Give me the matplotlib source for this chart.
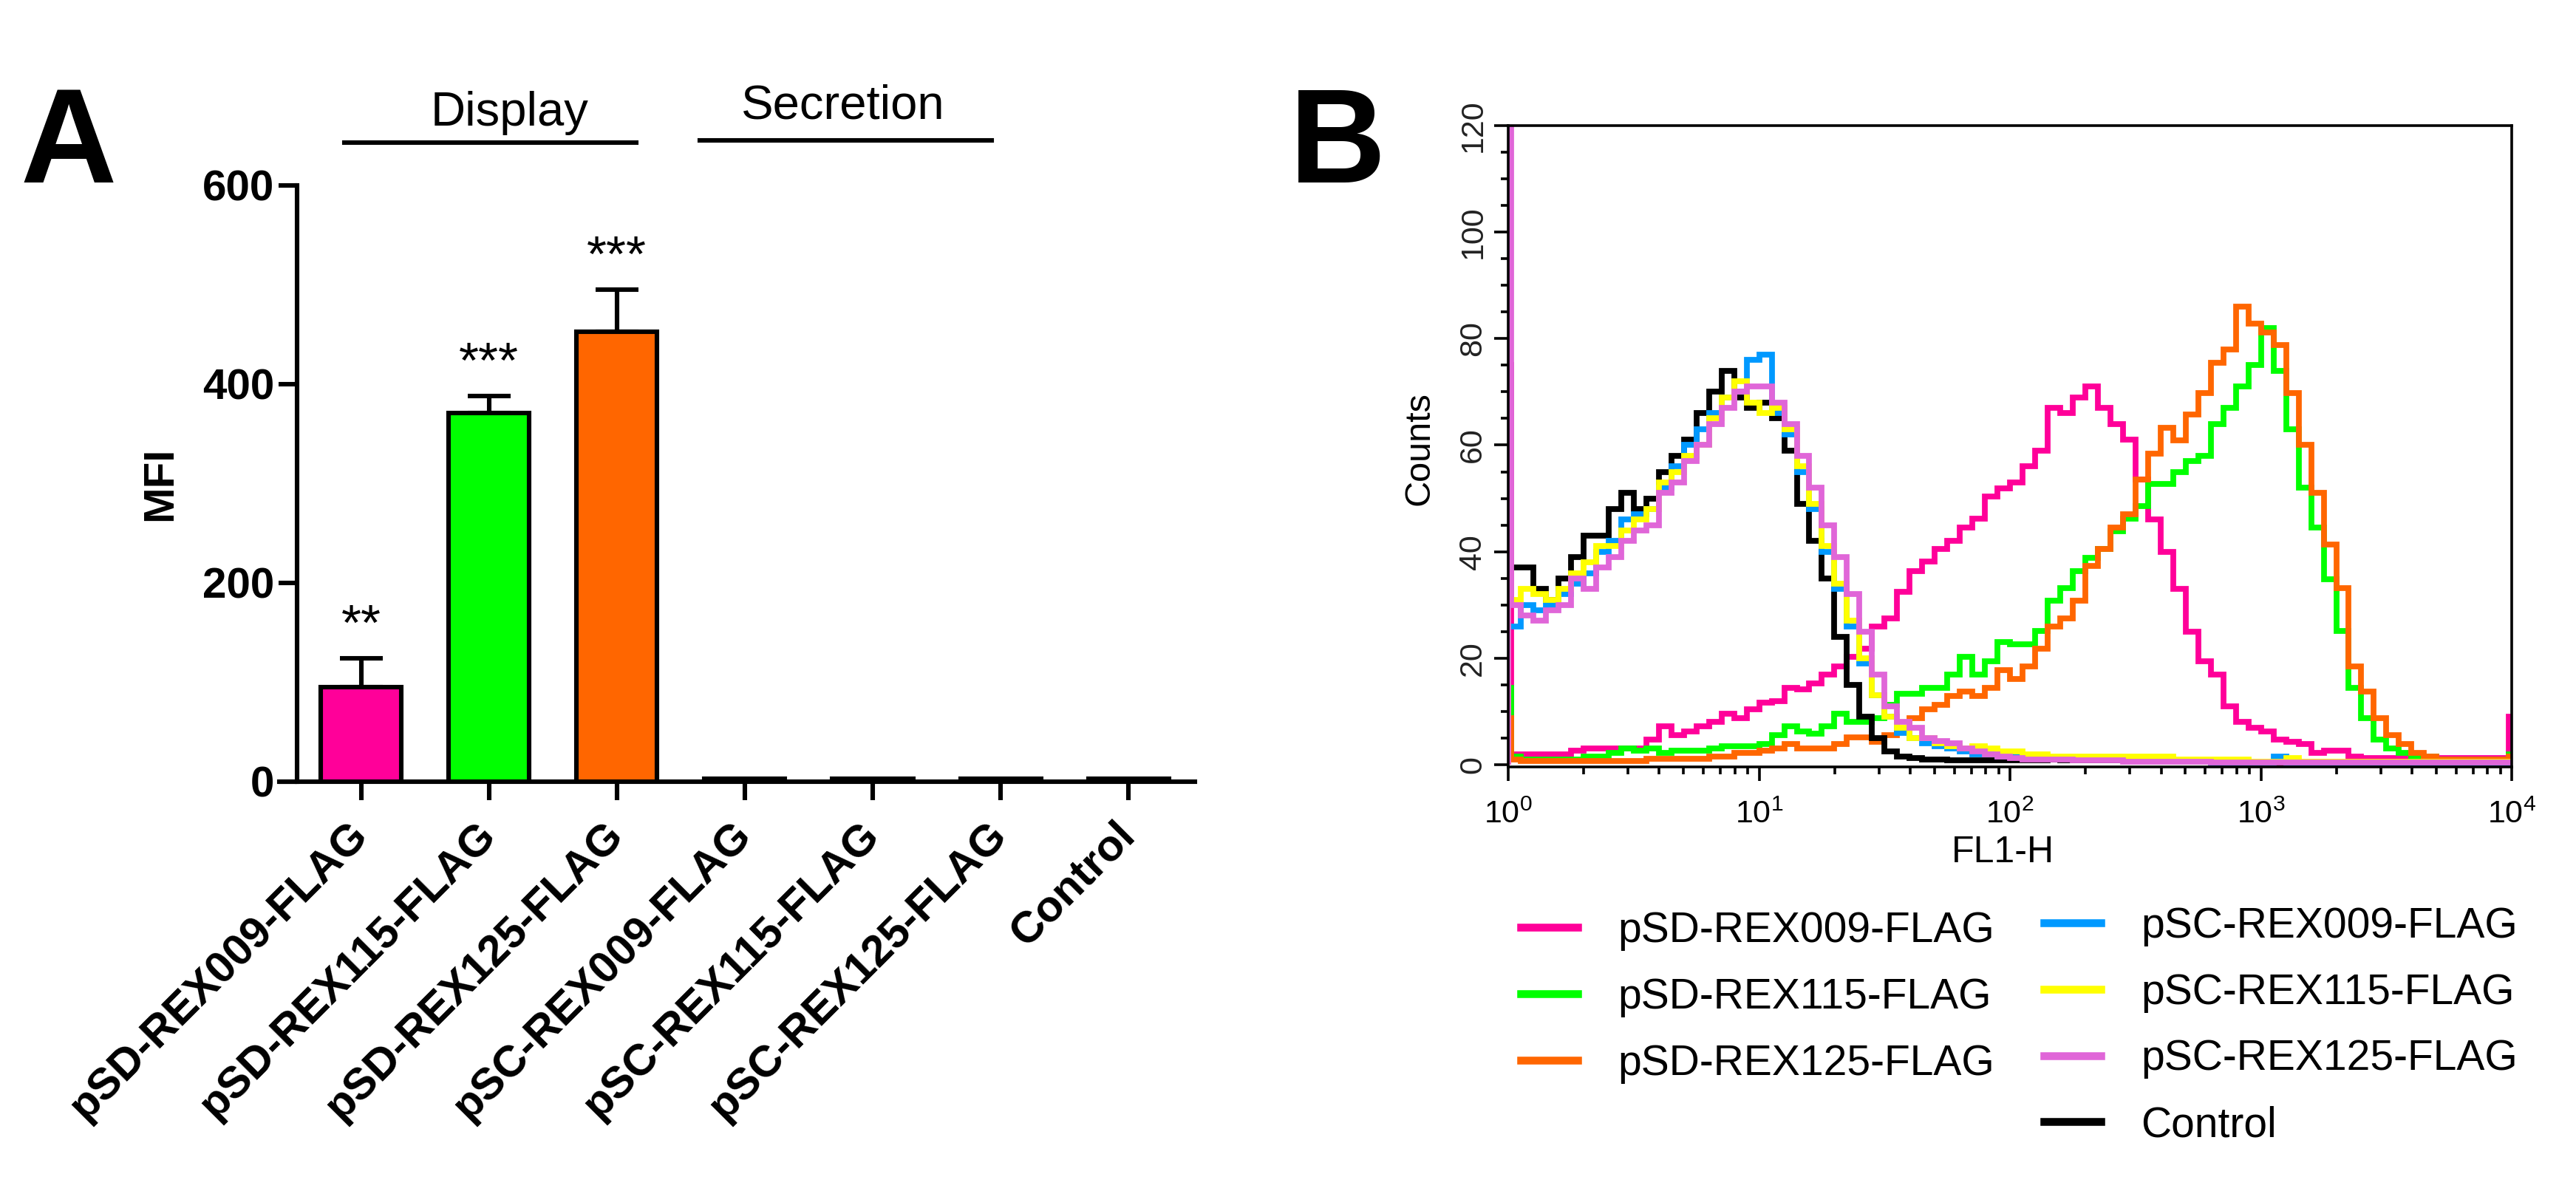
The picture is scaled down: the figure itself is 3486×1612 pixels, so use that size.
import numpy as np
import matplotlib
matplotlib.use('Agg')
import matplotlib.pyplot as plt
from matplotlib.lines import Line2D
from matplotlib.ticker import MultipleLocator, LogLocator, NullFormatter

plt.rcParams['font.family'] = ['Liberation Sans', 'DejaVu Sans']

# ---- panel A data ----
categories = ['pSD-REX009-FLAG', 'pSD-REX115-FLAG', 'pSD-REX125-FLAG',
              'pSC-REX009-FLAG', 'pSC-REX115-FLAG', 'pSC-REX125-FLAG', 'Control']
mfi = [95, 371, 453, 3, 3, 3, 3]
mfi_err = [29, 17, 42, 0, 0, 0, 0]
stars = ['**', '***', '***', '', '', '', '']
bar_colors = ['#FF0099', '#00FF00', '#FF6600', 'white', 'white', 'white', 'white']

# ---- panel B data (counts per 1/20 decade, plus first / last channel) ----
first_ch = {'pink': 75, 'green': 14.5, 'orange': 8.8, 'black': 37, 'blue': 26, 'yellow': 31, 'violet': 125}
last_ch = {'pink': 9, 'green': 2, 'orange': 1.5, 'black': 0.4, 'blue': 0.4, 'yellow': 0.5, 'violet': 0.4}

pink = [2, 2, 2, 2, 2, 2.7, 3, 3, 3, 3, 3, 4.7, 7.2, 5.5, 6.3, 7.2, 8, 9.6, 8.8, 10.4,
        11.6, 12, 14.5, 14.1, 15.3, 16.9, 18.5, 20.2, 21.8, 25.9, 27.5, 32.4, 36.4, 38.1, 40.5, 42.1, 44.6, 46.2, 50.3, 51.9,
        53, 56, 59, 67, 66, 69, 71, 67, 64, 61, 53.5, 46, 40, 33, 25, 19.4, 17, 11, 8, 7,
        6.3, 4.7, 4.3, 3.9, 2.3, 2.7, 2.7, 1.5, 1.2, 1.2, 1.2, 1.2, 1.2, 1.2, 1.2, 1.2, 1.2, 1.2, 1.2, 1.2]
green = [1.5, 1, 1, 1, 1, 1, 1.5, 1.5, 2.3, 3.1, 2.7, 3.1, 2.3, 2.7, 2.7, 2.7, 3.1, 3.5, 3.5, 3.5,
         3.9, 5.5, 7.2, 6.3, 5.9, 7.2, 9.6, 8, 8, 8.8, 11.2, 13.3, 13.3, 14.5, 14.5, 16.9, 20.2, 16.9, 19.4, 23,
         22.6, 22.6, 25.1, 30.8, 33.2, 36.4, 38.9, 40.5, 43.8, 46.2, 48.6, 52.7, 52.7, 55, 57, 58, 64, 67, 71, 75,
         82, 74, 63, 52, 44.6, 34.8, 25.1, 14.5, 8.8, 4.7, 3.1, 2.3, 1.5, 1.5, 1, 1, 1, 1, 1, 1]
orange = [1, 0.7, 0.7, 0.7, 0.7, 0.7, 0.7, 0.7, 0.7, 0.7, 0.7, 1.1, 1.1, 1.1, 1.1, 1.1, 1.5, 1.5, 2.3, 2.3,
          2.7, 3.1, 3.9, 3.1, 3.1, 3.1, 3.9, 5.1, 5.1, 4.3, 5.5, 6.7, 8.8, 10.4, 11.2, 12.9, 13.7, 12.9, 14.5, 17.7,
          16.1, 18.5, 21.8, 25.9, 27.5, 30.8, 37.3, 40.5, 44.6, 47, 53.5, 58.4, 63.3, 60.9, 65.7, 69.8, 75.5, 78, 86, 82.8,
          81.2, 78.8, 69.8, 60, 51.1, 41.3, 33.2, 18.5, 13.7, 8.8, 5.5, 3.9, 2.3, 1.5, 1, 1, 1, 1, 1, 1]
black = [37, 37, 33, 31, 35, 39, 43, 43, 48, 51, 48, 50, 55, 58, 61, 66, 70, 74, 69, 67,
         68, 65, 59, 49, 42, 35, 24, 15, 9, 5, 2.5, 1.5, 1.2, 1, 1, 0.8, 0.8, 0.8, 0.8, 0.8,
         0.8, 0.8, 0.8, 1, 0.8, 0.8, 0.8, 0.8, 0.8, 0.8, 0.8, 0.8, 0.8, 0.8, 0.8, 0.8, 0.3, 0.3, 0.3, 0.3,
         0.3, 0.3, 0.3, 0.3, 0.3, 0.3, 0.3, 0.3, 0.3, 0.3, 0.3, 0.3, 0.3, 0.3, 0.3, 0.3, 0.3, 0.3, 0.3, 0.3]
blue = [26, 30, 29, 30, 32, 34, 36, 40, 42, 46, 47, 48, 52, 56, 60, 63, 66, 69, 70, 76,
        77, 66, 62, 55, 48, 40, 33, 26, 19, 13, 9, 6, 5, 4, 3.5, 3, 2.5, 2, 2, 1.5,
        1.5, 1.5, 1.2, 1.2, 1.2, 1, 1, 1, 1, 1, 1, 1, 0.8, 0.8, 0.8, 0.8, 0.3, 0.3, 0.3, 0.3,
        0.3, 1.5, 0.3, 0.3, 0.3, 0.3, 0.3, 0.3, 0.3, 0.3, 0.3, 0.3, 0.3, 0.3, 0.3, 0.3, 0.3, 0.3, 0.3, 0.3]
yellow = [31, 33, 32, 31, 33, 36, 38, 41, 41, 44, 46, 48, 53, 55, 58, 60, 65, 69, 72, 68,
          66, 67, 63, 56, 49, 41, 34, 27, 20, 13, 9, 7, 5, 5, 4, 3.5, 3, 3.5, 3, 2.5,
          2.5, 2, 2, 1.5, 1.5, 1.5, 1.5, 1.5, 1.5, 1.5, 1.5, 1.5, 1.5, 1, 1, 1, 1, 1, 1, 0.5,
          0.5, 0.5, 1.2, 0.5, 0.5, 0.5, 0.5, 0.5, 0.5, 0.5, 0.5, 0.5, 0.5, 0.5, 0.5, 0.5, 0.5, 0.5, 0.5, 0.5]
violet = [30, 28, 27, 29, 30, 35, 33, 37, 39, 42, 44, 45, 51, 53, 57, 60, 64, 67, 70, 71,
          71, 68, 64, 58, 52, 45, 39, 32, 25, 17, 11, 8, 7, 5, 4.5, 4, 3, 2.5, 2, 1.5,
          1.2, 1, 1, 1, 1, 0.8, 0.8, 0.8, 0.8, 0.6, 0.6, 0.6, 0.5, 0.5, 0.5, 0.5, 0.4, 0.4, 0.4, 0.4,
          0.4, 0.4, 0.4, 0.4, 0.4, 0.4, 0.4, 0.4, 0.4, 0.4, 0.4, 0.4, 0.4, 0.4, 0.4, 0.4, 0.4, 0.4, 0.4, 0.4]

series = [('pink', pink, '#FF0099', 'pSD-REX009-FLAG'),
          ('green', green, '#00FF00', 'pSD-REX115-FLAG'),
          ('orange', orange, '#FF6600', 'pSD-REX125-FLAG'),
          ('black', black, 'black', 'Control'),
          ('blue', blue, '#0099FF', 'pSC-REX009-FLAG'),
          ('yellow', yellow, '#FFFF00', 'pSC-REX115-FLAG'),
          ('violet', violet, '#E066D8', 'pSC-REX125-FLAG')]

fig = plt.figure(figsize=(17.43, 8.06), dpi=200)

# ================= panel A =================
axA = fig.add_axes([0.1084, 0.3437, 0.3555, 0.5006])
x = np.arange(len(categories))
axA.bar(x, mfi, width=0.63, color=bar_colors, edgecolor='black', linewidth=2.2, zorder=3)
axA.errorbar(x[:3], mfi[:3], yerr=[np.zeros(3), mfi_err[:3]], fmt='none', ecolor='black',
             elinewidth=2.2, capsize=10.5, capthick=2.2, zorder=2)
for i in range(len(categories)):
    if stars[i]:
        axA.text(x[i], mfi[i] + mfi_err[i] + 19, stars[i], ha='center', va='baseline', fontsize=25)

axA.set_xlim(-0.64, 6.52)
axA.set_ylim(0, 600)
axA.spines['top'].set_visible(False)
axA.spines['right'].set_visible(False)
axA.spines['left'].set_position(('data', -0.5))
axA.spines['left'].set_linewidth(2.2)
axA.spines['bottom'].set_linewidth(2.2)
axA.set_yticks([0, 200, 400, 600])
axA.set_xticks(x)
axA.set_xticklabels(categories, rotation=45, ha='right', va='center', rotation_mode='anchor',
                    fontsize=21.5, fontweight='bold')
for lab in axA.get_yticklabels():
    lab.set_fontweight('bold')
    lab.set_fontsize(21)
axA.tick_params(axis='both', direction='out', length=9, width=2.2)
axA.tick_params(axis='x', pad=14)
axA.tick_params(axis='y', pad=2)
axA.set_ylabel('MFI', fontsize=21, fontweight='bold')
axA.yaxis.set_label_coords(-0.108, 0.5)

# group bars
axA.plot([-0.13, 2.15], [643, 643], color='black', lw=2.2, clip_on=False)
axA.plot([2.65, 4.93], [645, 645], color='black', lw=2.2, clip_on=False)
axA.text(1.16, 660, 'Display', ha='center', va='baseline', fontsize=23.5)
axA.text(3.77, 667, 'Secretion', ha='center', va='baseline', fontsize=23.5)

fig.text(0.008, 0.8468, 'A', fontsize=65, fontweight='bold', ha='left', va='baseline')

# ================= panel B =================
axB = fig.add_axes([0.5855, 0.3561, 0.3896, 0.5385])
edges = 10 ** np.r_[0, 0.012, np.arange(1, 80) / 20, 3.988, 4]
for key, vals, col, lab in series:
    counts = np.r_[first_ch[key], vals, last_ch[key]]
    axB.stairs(counts, edges, color=col, lw=2.8, baseline=0)

axB.set_xscale('log')
axB.set_xlim(1, 1e4)
axB.set_ylim(-0.4, 120)
axB.yaxis.set_major_locator(MultipleLocator(20))
axB.yaxis.set_minor_locator(MultipleLocator(5))
axB.xaxis.set_major_locator(LogLocator(base=10, numticks=10))
axB.xaxis.set_minor_locator(LogLocator(base=10, subs=np.arange(2, 10), numticks=20))
axB.xaxis.set_minor_formatter(NullFormatter())
for sp in axB.spines.values():
    sp.set_linewidth(1.3)
axB.tick_params(which='major', direction='out', length=7, width=1.3, labelsize=15.5, pad=3)
axB.tick_params(which='minor', direction='out', length=3.6, width=1.3)
axB.tick_params(axis='x', which='major', pad=9)
for lab in axB.get_yticklabels():
    lab.set_rotation(90)
    lab.set_va('center')
    lab.set_color('#222222')
axB.set_ylabel('Counts', fontsize=17.5)
axB.yaxis.set_label_coords(-0.072, 0.4966)
axB.set_xlabel('FL1-H', fontsize=18)
axB.xaxis.set_label_coords(0.4926, -0.107)

fig.text(0.5005, 0.8468, 'B', fontsize=65, fontweight='bold', ha='left', va='baseline')

handles = {lab: Line2D([], [], color=col, lw=3.8) for key, vals, col, lab in series}
order1 = ['pSD-REX009-FLAG', 'pSD-REX115-FLAG', 'pSD-REX125-FLAG']
order2 = ['pSC-REX009-FLAG', 'pSC-REX115-FLAG', 'pSC-REX125-FLAG', 'Control']
leg_kw = dict(frameon=False, fontsize=20.5, handlelength=1.35, handletextpad=0.95,
              labelspacing=0.63, borderpad=0, borderaxespad=0, loc='upper left')
fig.legend([handles[k] for k in order1], order1, bbox_to_anchor=(0.5904, 0.235), **leg_kw)
fig.legend([handles[k] for k in order2], order2, bbox_to_anchor=(0.7935, 0.239), **leg_kw)

fig.savefig('out.png', dpi=200)
